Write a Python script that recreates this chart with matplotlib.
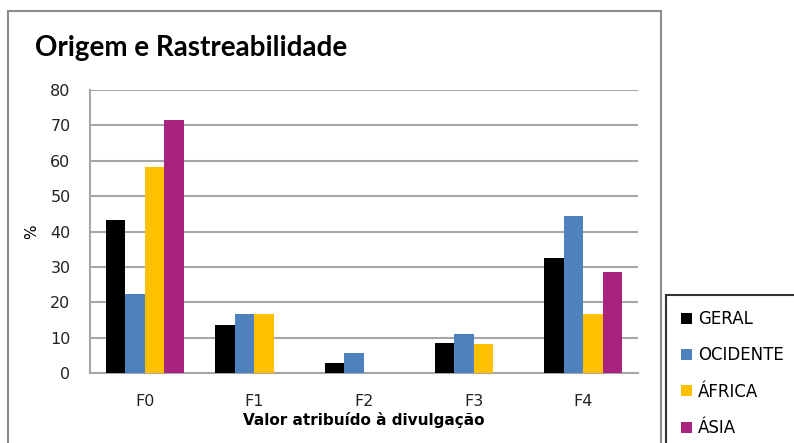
import matplotlib
matplotlib.use('Agg')
import matplotlib.pyplot as plt
import numpy as np
from matplotlib.patches import Rectangle

# Dados
categorias = ['F0', 'F1', 'F2', 'F3', 'F4']
geral = [43.2, 13.6, 2.8, 8.4, 32.4]
ocidente = [22.2, 16.7, 5.6, 11.1, 44.5]
africa = [58.3, 16.7, 0, 8.3, 16.7]
asia = [71.4, 0, 0, 0, 28.5]

series = ['GERAL', 'OCIDENTE', 'ÁFRICA', 'ÁSIA']
valores = [geral, ocidente, africa, asia]
cores = ['#000000', '#4F81BD', '#FFC000', '#A8237E']

W, H = 794, 443
fig = plt.figure(figsize=(W / 100, H / 100), dpi=100)
ax = fig.add_axes([90 / W, 1 - 373 / H, 548 / W, 283 / H])

x = np.arange(len(categorias))
w = 0.178
for i, (nome, vals) in enumerate(zip(series, valores)):
    ax.bar(x + (i - 1.5) * w, vals, w, color=cores[i], label=nome, zorder=3)

ax.set_xlim(-0.5, len(categorias) - 0.5)
ax.set_ylim(0, 80)
ax.set_yticks(range(0, 81, 10))
ax.set_xticks(x)
ax.set_xticklabels(categorias)
ax.tick_params(length=0, labelsize=11.5, colors='#222222')
ax.tick_params(axis='x', pad=15)
ax.tick_params(axis='y', pad=14)
ax.yaxis.grid(True, color='#A6A6A6', linewidth=1.5, zorder=0)
ax.set_axisbelow(True)
for s in ['top', 'right']:
    ax.spines[s].set_visible(False)
for s in ['left', 'bottom']:
    ax.spines[s].set_color('#A6A6A6')
    ax.spines[s].set_linewidth(1.5)

ax.set_xlabel('Valor atribuído à divulgação', fontsize=11, fontweight='bold', labelpad=2)
ax.set_ylabel('%', fontsize=11, labelpad=8)

fig.text(35 / W, 1 - 48 / H, 'Origem e Rastreabilidade', fontsize=20,
         fontweight='bold', family='Lato', va='center', ha='left')

# moldura externa do gráfico
fig.add_artist(Rectangle((8 / W, -0.1), (661 - 8) / W, 1.1 - 11 / H,
                         transform=fig.transFigure, fill=False,
                         edgecolor='#8C8C8C', linewidth=1.5))

leg = fig.legend(loc='upper left', bbox_to_anchor=(666 / W, 1 - 295 / H),
                 frameon=True, fancybox=False, fontsize=12,
                 handlelength=0.65, handleheight=0.65, handletextpad=0.35,
                 labelspacing=1.1, borderpad=0.9, borderaxespad=0)
leg.get_frame().set_edgecolor('black')
leg.get_frame().set_linewidth(1.5)

fig.savefig('out.png', dpi=100)
